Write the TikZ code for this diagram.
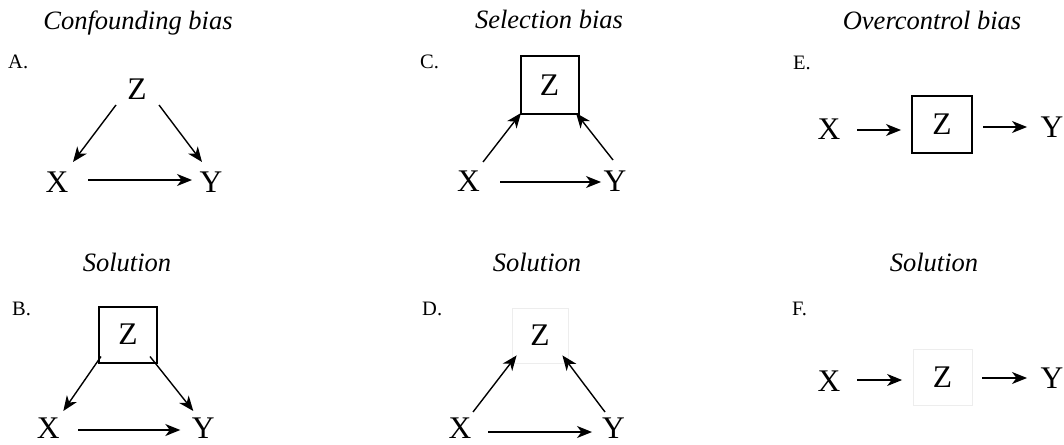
\documentclass[tikz,border=0pt]{standalone}
\usepackage{fontspec}
\setmainfont{Liberation Serif}
\usetikzlibrary{arrows.meta}
\begin{document}
\begin{tikzpicture}[x=1pt,y=-1pt,
  var/.style={inner sep=0pt,font=\fontsize{31.5}{34}\selectfont},
  boxed/.style={var,draw,line width=2pt,minimum width=58pt,minimum height=57pt},
  faint/.style={var,draw=black!7,line width=0.8pt,minimum width=57pt,minimum height=56pt},
  ttl/.style={anchor=base,inner sep=0pt,font=\fontsize{26.5}{30}\selectfont\itshape},
  lab/.style={anchor=base west,inner sep=0pt,font=\fontsize{20.5}{24}\selectfont},
  arr/.style={line width=1.4pt,-{Stealth[length=15pt,width=12pt,inset=4.5pt]}}]
\useasboundingbox (0,0) rectangle (1064,444);
% ---------- A ----------
\node[ttl] (tA) at (138,30) {Confounding bias};
\node[lab] (lA) at (8,68) {A.};
\node[var] (aZ) at (137,89) {Z};
\node[var] (aX) at (57,182) {X};
\node[var] (aY) at (211,182) {Y};
\draw[arr] ([shift={(-21,16)}]aZ.center) -- ([shift={(16,-20)}]aX.center);
\draw[arr] ([shift={(22,16)}]aZ.center) -- ([shift={(-9,-20)}]aY.center);
\draw[arr] ([shift={(31,-2)}]aX.center) -- ([shift={(-19,-2)}]aY.center);
% ---------- C ----------
\node[ttl] (tC) at (549,29) {Selection bias};
\node[lab] (lC) at (420,68) {C.};
\node[boxed] (cZ) at (549.5,85) {Z};
\node[var] (cX) at (468.5,181) {X};
\node[var] (cY) at (615,181) {Y};
\draw[arr] ([shift={(14.5,-19)}]cX.center) -- ([shift={(1.5,-1.5)}]cZ.south west);
\draw[arr] ([shift={(-2,-21)}]cY.center) -- ([shift={(-3.5,-1.5)}]cZ.south east);
\draw[arr] ([shift={(31.5,1)}]cX.center) -- ([shift={(-14,1)}]cY.center);
% ---------- E ----------
\node[ttl] (tE) at (932,30) {Overcontrol bias};
\node[lab] (lE) at (793,69) {E.};
\node[var] (eX) at (829,129) {X};
\node[boxed,minimum width=60pt] (eZ) at (942,124.5) {Z};
\node[var] (eY) at (1052,127) {Y};
\draw[arr] ([shift={(28,1)}]eX.center) -- ([shift={(-10,5.5)}]eZ.west);
\draw[arr] ([shift={(10,2.5)}]eZ.east) -- ([shift={(-25,0)}]eY.center);
% ---------- B ----------
\node[ttl] (tB) at (127,271) {Solution};
\node[lab] (lB) at (12,315) {B.};
\node[boxed,minimum height=56pt] (bZ) at (128,334.5) {Z};
\node[var] (bX) at (48.3,428.5) {X};
\node[var] (bY) at (203.3,428.5) {Y};
\draw[arr] ([shift={(3,-7)}]bZ.south west) -- ([shift={(15,-17.5)}]bX.center);
\draw[arr] ([shift={(-8,-7)}]bZ.south east) -- ([shift={(-10,-17.5)}]bY.center);
\draw[arr] ([shift={(30,1.5)}]bX.center) -- ([shift={(-23,1.5)}]bY.center);
% ---------- D ----------
\node[ttl] (tD) at (537,271) {Solution};
\node[lab] (lD) at (422,315) {D.};
\node[faint,minimum width=56pt,minimum height=55pt] (dZ) at (540,335.5) {Z};
\node[var] (dX) at (460,428.5) {X};
\node[var] (dY) at (613.5,428.5) {Y};
\draw[arr] ([shift={(13,-16.5)}]dX.center) -- ([shift={(5,-8)}]dZ.south west);
\draw[arr] ([shift={(-8.5,-16.5)}]dY.center) -- ([shift={(-6,-8)}]dZ.south east);
\draw[arr] ([shift={(28,3.5)}]dX.center) -- ([shift={(-21.5,3.5)}]dY.center);
% ---------- F ----------
\node[ttl] (tF) at (934,271) {Solution};
\node[lab] (lF) at (792,315) {F.};
\node[var] (fX) at (829,381) {X};
\node[faint,minimum width=59pt] (fZ) at (942.5,377) {Z};
\node[var] (fY) at (1052,378) {Y};
\draw[arr] ([shift={(28,-1)}]fX.center) -- ([shift={(-10.5,3)}]fZ.west);
\draw[arr] ([shift={(10,1)}]fZ.east) -- ([shift={(-25,0)}]fY.center);
\end{tikzpicture}
\end{document}
